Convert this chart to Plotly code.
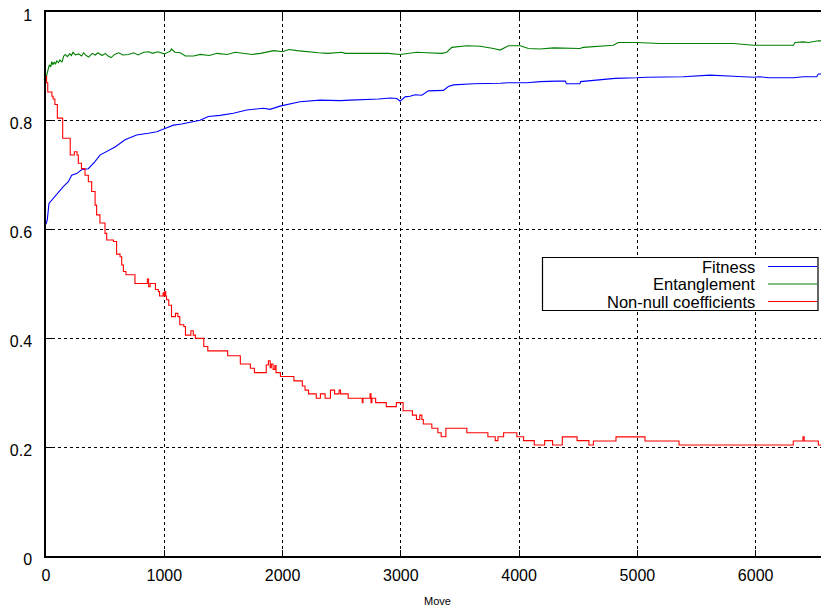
import plotly.graph_objects as go

# ---------------- data ----------------
series_names = ["Fitness", "Entanglement", "Non-null coefficients"]
series_colors = ["#0000ff", "#008000", "#ff0000"]

fitness_x = [0, 11, 25, 48, 70, 90, 120, 146, 189, 217, 259, 301, 358, 414, 456, 527, 584, 668,
             766, 865, 936, 1006, 1077, 1147, 1232, 1302, 1373, 1471, 1584, 1697, 1838, 1894,
             1978, 2091, 2147, 2316, 2487, 2571, 2740, 2811, 2910, 2966, 2994, 3036, 3078,
             3121, 3177, 3233, 3360, 3402, 3445, 3614, 3839, 3910, 4065, 4178, 4319, 4390,
             4400, 4514, 4519, 4627, 4810, 4993, 5078, 5388, 5614, 5811, 5981, 6037, 6108,
             6319, 6403, 6516, 6530, 6620]
fitness_y = [0.610, 0.618, 0.648, 0.654, 0.660, 0.664, 0.672, 0.679, 0.688, 0.700, 0.703, 0.710,
             0.712, 0.725, 0.737, 0.746, 0.752, 0.765, 0.774, 0.777, 0.780, 0.786, 0.792, 0.794,
             0.798, 0.801, 0.808, 0.810, 0.814, 0.820, 0.823, 0.821, 0.827, 0.833, 0.835, 0.838,
             0.837, 0.838, 0.839, 0.840, 0.842, 0.841, 0.836, 0.844, 0.845, 0.848, 0.847, 0.855,
             0.856, 0.863, 0.866, 0.868, 0.869, 0.870, 0.870, 0.872, 0.873, 0.873, 0.868, 0.868,
             0.872, 0.874, 0.878, 0.879, 0.880, 0.881, 0.884, 0.882, 0.880, 0.881, 0.879, 0.879,
             0.881, 0.881, 0.886, 0.886]

entangle_x = [0, 6, 28, 40, 48, 58, 70, 80, 90, 105, 118, 135, 150, 164, 180, 200, 215, 228, 250,
              276, 300, 318, 340, 361, 390, 417, 440, 474, 502, 525, 550, 580, 614, 650, 699, 741,
              780, 826, 868, 900, 944, 1000, 1051, 1060, 1090, 1136, 1178, 1248, 1305, 1380, 1446,
              1530, 1601, 1680, 1742, 1813, 1869, 1926, 2000, 2053, 2124, 2204, 2303, 2388, 2501,
              2529, 2656, 2797, 2895, 2994, 3050, 3135, 3219, 3346, 3388, 3431, 3558, 3670, 3783,
              3839, 3910, 4009, 4079, 4178, 4291, 4418, 4514, 4542, 4655, 4796, 4838, 4993, 5191,
              5360, 5586, 5811, 5981, 6037, 6319, 6333, 6403, 6446, 6530, 6620]
entangle_y = [0.870, 0.884, 0.903, 0.899, 0.909, 0.903, 0.908, 0.904, 0.910, 0.907, 0.912, 0.908,
              0.919, 0.922, 0.918, 0.923, 0.920, 0.926, 0.921, 0.923, 0.919, 0.925, 0.920, 0.917,
              0.924, 0.921, 0.925, 0.920, 0.924, 0.919, 0.916, 0.922, 0.925, 0.921, 0.922, 0.925,
              0.921, 0.926, 0.927, 0.924, 0.927, 0.923, 0.928, 0.932, 0.926, 0.925, 0.919, 0.919,
              0.922, 0.920, 0.924, 0.922, 0.926, 0.923, 0.922, 0.924, 0.927, 0.929, 0.927, 0.931,
              0.929, 0.927, 0.925, 0.924, 0.926, 0.924, 0.924, 0.925, 0.924, 0.922, 0.924, 0.926,
              0.925, 0.924, 0.926, 0.935, 0.938, 0.937, 0.933, 0.930, 0.938, 0.938, 0.933, 0.932,
              0.934, 0.934, 0.933, 0.935, 0.937, 0.939, 0.944, 0.944, 0.942, 0.942, 0.942, 0.942,
              0.939, 0.939, 0.939, 0.944, 0.945, 0.944, 0.947, 0.947]

nonnull_x = [0, 5, 15, 50, 60, 75, 96, 141, 205, 240, 262, 273, 300, 330, 358, 386, 415, 428,
             456, 499, 513, 570, 597, 626, 640, 654, 676, 752, 857, 868, 880, 925, 950, 960, 990,
             1000, 1005, 1012, 1019, 1038, 1061, 1095, 1115, 1131, 1165, 1179, 1225, 1245, 1263,
             1334, 1368, 1536, 1643, 1728, 1762, 1862, 1880, 1895, 1905, 1920, 1935, 1945, 1982,
             2096, 2167, 2190, 2220, 2285, 2320, 2360, 2405, 2440, 2478, 2490, 2555, 2674, 2680,
             2740, 2748, 2755, 2787, 2877, 2962, 3019, 3098, 3132, 3160, 3178, 3190, 3262, 3313,
             3341, 3381, 3558, 3736, 3798, 3821, 3869, 3981, 4038, 4128, 4216, 4283, 4365, 4490,
             4590, 4628, 4819, 5064, 5352, 6318, 6400, 6410, 6530, 6614, 6620]
nonnull_y = [0.882, 0.870, 0.853, 0.845, 0.840, 0.830, 0.805, 0.768, 0.737, 0.743, 0.737, 0.722,
             0.712, 0.700, 0.688, 0.670, 0.645, 0.627, 0.612, 0.593, 0.581, 0.578, 0.555, 0.550,
             0.535, 0.523, 0.517, 0.501, 0.509, 0.495, 0.501, 0.490, 0.486, 0.478, 0.484, 0.478,
             0.486, 0.478, 0.471, 0.461, 0.440, 0.446, 0.440, 0.425, 0.422, 0.406, 0.414, 0.406,
             0.400, 0.385, 0.377, 0.368, 0.353, 0.345, 0.337, 0.351, 0.359, 0.346, 0.353, 0.343,
             0.350, 0.337, 0.330, 0.322, 0.3125, 0.305, 0.298, 0.290, 0.298, 0.290, 0.305, 0.298,
             0.305, 0.298, 0.290, 0.282, 0.290, 0.298, 0.282, 0.290, 0.282, 0.2745, 0.282, 0.267,
             0.259, 0.251, 0.259, 0.251, 0.2426, 0.2347, 0.2267, 0.2193, 0.2347, 0.2267, 0.2193,
             0.212, 0.2193, 0.2267, 0.2193, 0.212, 0.204, 0.212, 0.204, 0.219, 0.212, 0.204,
             0.2114, 0.219, 0.2114, 0.204, 0.2114, 0.219, 0.2114, 0.204, 0.2114, 0.2114]

x_ticks = [0, 1000, 2000, 3000, 4000, 5000, 6000]
y_ticks = [0, 0.2, 0.4, 0.6, 0.8, 1]
y_tick_labels = ["0", "0.2", "0.4", "0.6", "0.8", "1"]
x_title = "Move"

# ---------------- figure ----------------
OFF = 8                      # default page body margin
W, H = 829 - OFF, 610 - OFF
L, R, T, B = 46 - OFF, 0, 12 - OFF, 54
font_family = "Liberation Sans, Arial, Helvetica, sans-serif"

fig = go.Figure()
data = [(fitness_x, fitness_y, "linear"),
        (entangle_x, entangle_y, "linear"),
        (nonnull_x, nonnull_y, "hv")]
for (xs, ys, shape), name, color in zip(data, series_names, series_colors):
    fig.add_trace(go.Scatter(x=xs, y=ys, mode="lines", name=name,
                             line=dict(color=color, width=1.1, shape=shape),
                             showlegend=False))

# custom gnuplot-style legend (text right, sample line at right)
pw = W - L - R
ph = H - T - B
def px2paper_x(px):
    return (px - OFF - L) / pw
def px2paper_y(py):
    return (H - B - (py - OFF)) / ph

box = dict(x0=542.5, x1=818, y0=257.5, y1=310.5)
fig.add_shape(type="rect", xref="paper", yref="paper",
              x0=px2paper_x(box["x0"]), x1=px2paper_x(box["x1"]),
              y0=px2paper_y(box["y1"]), y1=px2paper_y(box["y0"]),
              line=dict(color="black", width=1.2), fillcolor="white", layer="above")
row_y = [266.5, 284, 301.5]
for name, color, ry in zip(series_names, series_colors, row_y):
    fig.add_annotation(xref="paper", yref="paper", x=px2paper_x(757), y=px2paper_y(ry),
                       text=name, showarrow=False, xanchor="right", yanchor="middle",
                       font=dict(size=16.5, color="black", family=font_family))
    fig.add_shape(type="line", xref="paper", yref="paper",
                  x0=px2paper_x(768), x1=px2paper_x(817),
                  y0=px2paper_y(ry), y1=px2paper_y(ry),
                  line=dict(color=color, width=1.2), layer="above")

fig.update_layout(
    width=W, height=H,
    margin=dict(l=L, r=R, t=T, b=B, pad=0, autoexpand=False),
    paper_bgcolor="white", plot_bgcolor="white",
    font=dict(family=font_family, size=16, color="black"),
)
fig.update_xaxes(range=[0, 6620], tickvals=x_ticks, ticktext=[str(v) for v in x_ticks],
                 showgrid=True, gridcolor="black", griddash="dot", gridwidth=1,
                 zeroline=False, showline=True, linecolor="black", linewidth=1.5,
                 mirror="ticks", ticks="inside", ticklen=6, tickcolor="black",
                 tickfont=dict(size=16), ticklabelstandoff=4, ticklabeloverflow="allow",
                 automargin=False,
                 title=dict(text=x_title, font=dict(size=11), standoff=14))
fig.update_yaxes(range=[0, 1], tickvals=y_ticks, ticktext=y_tick_labels,
                 showgrid=True, gridcolor="black", griddash="dot", gridwidth=1,
                 zeroline=False, showline=True, linecolor="black", linewidth=1.5,
                 mirror=False, ticks="inside", ticklen=6, tickcolor="black",
                 tickfont=dict(size=16), ticklabelstandoff=9, ticklabeloverflow="allow",
                 ticklabelshift=3, automargin=False)

fig.write_html("out.html")
